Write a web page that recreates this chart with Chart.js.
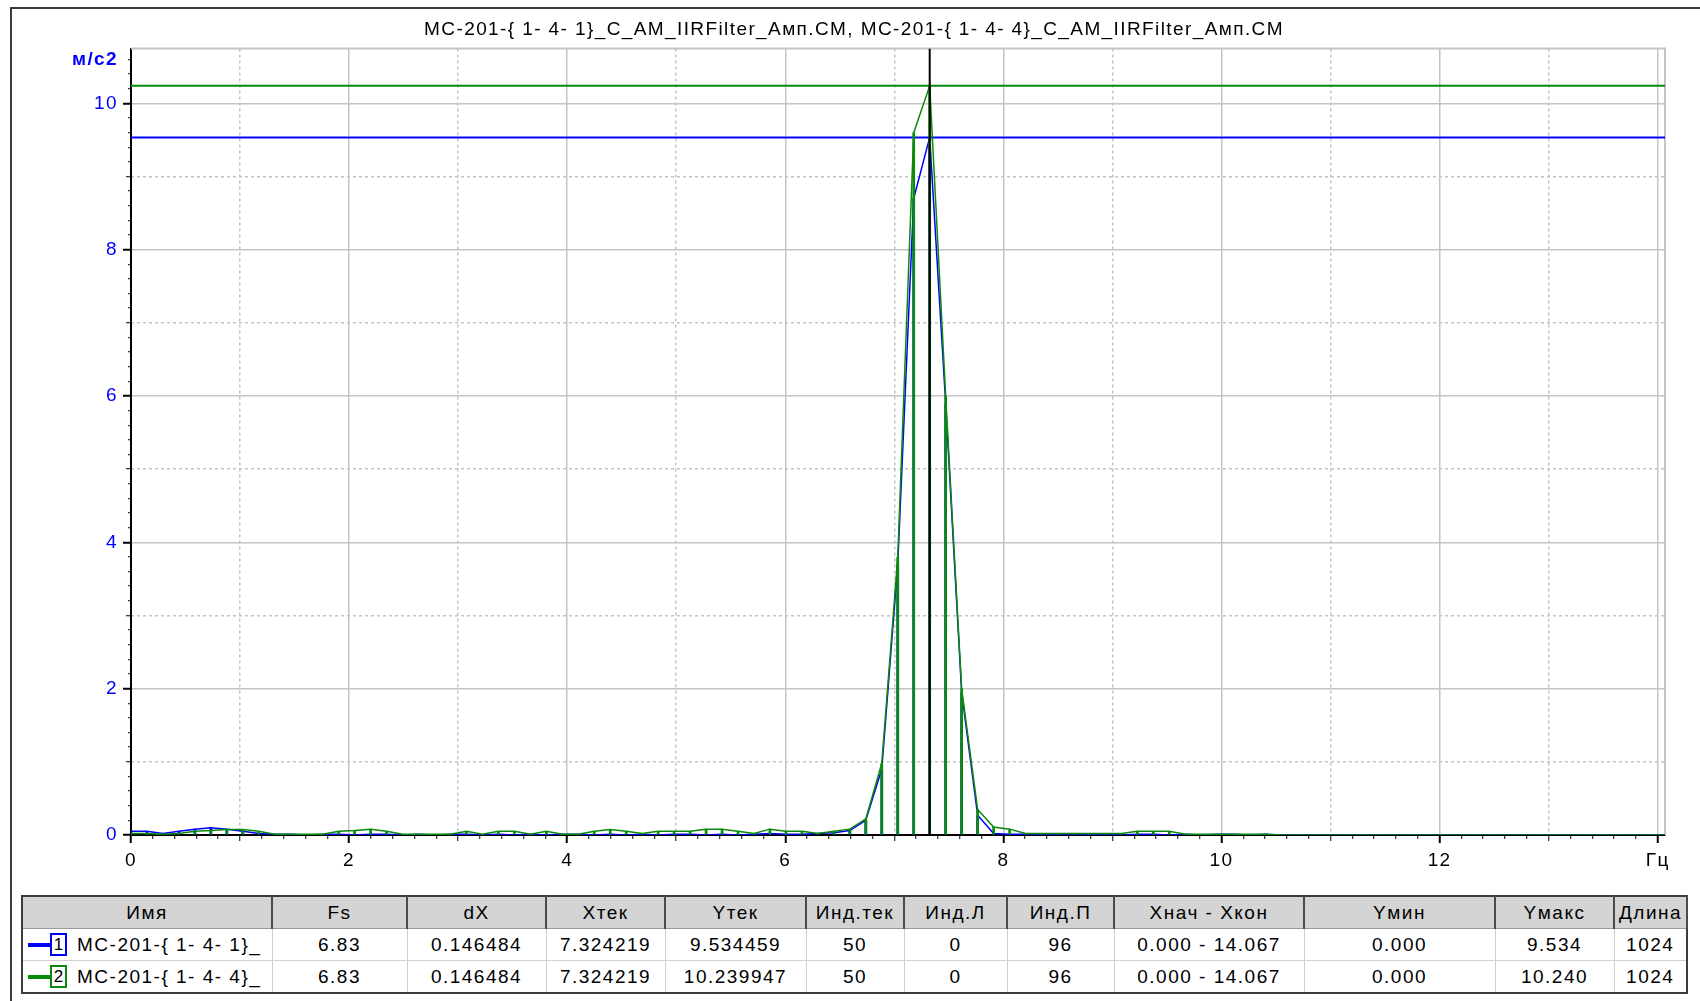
<!DOCTYPE html>
<html>
<head>
<meta charset="utf-8">
<script src="https://cdn.jsdelivr.net/npm/chart.js@4.4.1/dist/chart.umd.min.js"></script>
<style>
  body { margin: 0; background: #fff; width: 1700px; height: 1001px; overflow: hidden; position: relative;
         font-family: "Liberation Sans", Arial, sans-serif; }
  #frame { position: absolute; left: 10px; top: 7px; right: -4px; bottom: -4px;
           border-top: 2px solid #3a3a3a; border-left: 2px solid #3a3a3a; }
  #wrap { position: absolute; left: 0; top: 0; width: 1700px; height: 885px; }
  #info { position: absolute; left: 21px; top: 895px; border-collapse: collapse; table-layout: fixed;
          border: 2px solid #3c3c3c; font-size: 19px; letter-spacing: 1.5px; color: #000; }
  #info th { background: #d4d4d4; font-weight: normal; height: 31px; padding: 0;
             border-right: 2px solid #4a4a4a; border-bottom: 1px solid #999; }
  #info td { height: 31px; padding: 0; border: 1px solid #d0d0d0; text-align: center; white-space: nowrap; overflow: hidden; }
  #info td.name { text-align: left; }
  .mark { display: inline-block; vertical-align: middle; width: 22px; height: 4px; margin-left: 5px; }
  .num { display: inline-block; vertical-align: middle; width: 13px; height: 19px; line-height: 19px; text-align: center;
         border: 2px solid; font-size: 17px; letter-spacing: 0; margin-right: 10px; }
</style>
</head>
<body>
<div id="frame"></div>
<div id="wrap"><canvas id="spectrumChart" width="1700" height="885"></canvas></div>
<table id="info"></table>
<script>
const dX = 0.146484;
const xMax = 14.067;
const yMax = 10.75;
const blueColor = '#0000ff';
const greenColor = '#0a8a0a';

const chartTitle = 'MC-201-{ 1- 4- 1}_C_AM_IIRFilter_Амп.CM, MC-201-{ 1- 4- 4}_C_AM_IIRFilter_Амп.CM';

// amplitudes, one value per spectral line (index 0..96)
const blueValues = [
  0.05, 0.05, 0.02, 0.05, 0.08, 0.10, 0.08, 0.05, 0.02, 0.01,
  0.01, 0.00, 0.01, 0.01, 0.00, 0.01, 0.01, 0.00, 0.01, 0.00,
  0.01, 0.01, 0.00, 0.01, 0.00, 0.01, 0.00, 0.01, 0.01, 0.00,
  0.01, 0.00, 0.01, 0.00, 0.01, 0.01, 0.00, 0.01, 0.00, 0.01,
  0.02, 0.01, 0.01, 0.02, 0.03, 0.06, 0.20, 0.90, 3.70, 8.70,
  9.534459, 5.90, 1.95, 0.27, 0.02, 0.01, 0.01, 0.00, 0.01, 0.00,
  0.01, 0.01, 0.00, 0.01, 0.01, 0.00, 0.01, 0.00, 0.01, 0.01,
  0.00, 0.01, 0, 0, 0, 0, 0, 0, 0, 0,
  0, 0, 0, 0, 0, 0, 0, 0, 0, 0,
  0, 0, 0, 0, 0, 0, 0
];
const greenValues = [
  0.02, 0.02, 0.01, 0.02, 0.05, 0.06, 0.075, 0.075, 0.05, 0.01,
  0.01, 0.01, 0.01, 0.05, 0.06, 0.08, 0.05, 0.01, 0.01, 0.01,
  0.01, 0.05, 0.01, 0.05, 0.05, 0.01, 0.05, 0.01, 0.01, 0.05,
  0.075, 0.05, 0.02, 0.05, 0.05, 0.05, 0.08, 0.08, 0.05, 0.02,
  0.08, 0.05, 0.05, 0.02, 0.05, 0.08, 0.22, 0.98, 3.80, 9.60,
  10.239947, 6.00, 2.00, 0.35, 0.11, 0.08, 0.02, 0.02, 0.02, 0.02,
  0.02, 0.02, 0.02, 0.05, 0.05, 0.05, 0.01, 0.01, 0.01, 0.01,
  0.01, 0.01, 0, 0, 0, 0, 0, 0, 0, 0,
  0, 0, 0, 0, 0, 0, 0, 0, 0, 0,
  0, 0, 0, 0, 0, 0, 0
];

const cursorX = 7.324219;
const cursorY = [9.534459, 10.239947];

const xLabelTicks = [0, 2, 4, 6, 8, 10, 12, 14];
const xLabelText = ['0', '2', '4', '6', '8', '10', '12', 'Гц'];
const yLabelTicks = [0, 2, 4, 6, 8, 10, 10.6];
const yLabelText = ['0', '2', '4', '6', '8', '10', 'м/с2'];
const minorStep = 0.2;

const tableHeaders = ['Имя', 'Fs', 'dX', 'Xтек', 'Yтек', 'Инд.тек', 'Инд.Л', 'Инд.П', 'Хнач - Хкон', 'Yмин', 'Yмакс', 'Длина'];
const tableWidths = [250, 135, 139, 119, 141, 98, 103, 107, 190, 191, 119, 73];
const rowNames = ['MC-201-{ 1- 4- 1}_', 'MC-201-{ 1- 4- 4}_'];
const rowColors = [blueColor, greenColor];
const rowValues = [
  ['6.83', '0.146484', '7.324219', '9.534459', '50', '0', '96', '0.000 - 14.067', '0.000', '9.534', '1024'],
  ['6.83', '0.146484', '7.324219', '10.239947', '50', '0', '96', '0.000 - 14.067', '0.000', '10.240', '1024']
];

const fontFamily = '"Liberation Sans", Arial, sans-serif';
Chart.defaults.font.family = fontFamily;
const textSize = 19;

const near = (a, b) => Math.abs(a - b) < 1e-6;
const isEven = v => near(v / 2, Math.round(v / 2));
const isWhole = v => near(v, Math.round(v));
const tv = c => (c.tick ? c.tick.value : -1);
const pts = vals => vals.map((v, i) => ({ x: i * dX, y: v }));

function stepTicks(max) {
  const t = [];
  for (let k = 0; k * minorStep <= max + 1e-9; k++) t.push({ value: Math.round(k * minorStep * 10) / 10 });
  return t;
}
function oddTicks(max) {
  const t = [];
  for (let v = 1; v < max; v += 2) t.push({ value: v });
  return t;
}
function tickLen(v) {
  if (isEven(v)) return 8;
  if (isWhole(v)) return 5;
  return 3;
}
const gridColor = c => (tv(c) > 0 && isEven(tv(c))) ? '#c4c4c4' : 'rgba(0,0,0,0)';

// the old program spaces its letters out, canvas can do the same
const letterSpacing = {
  id: 'letterSpacing',
  beforeLayout(chart) { chart.ctx.letterSpacing = '1.4px'; },
  beforeDraw(chart) { chart.ctx.letterSpacing = '1.4px'; }
};

const plotFrame = {
  id: 'plotFrame',
  beforeDatasetsDraw(chart) {
    const { ctx, chartArea: a } = chart;
    ctx.save();
    ctx.strokeStyle = '#c4c4c4';
    ctx.lineWidth = 2;
    ctx.beginPath();
    ctx.moveTo(a.left, a.top);
    ctx.lineTo(a.right, a.top);
    ctx.lineTo(a.right, a.bottom);
    ctx.stroke();
    ctx.restore();
  }
};

const ctx = document.getElementById('spectrumChart').getContext('2d');
new Chart(ctx, {
  type: 'line',
  data: {
    datasets: [{
      label: 'cursor',
      data: [{ x: cursorX, y: 0 }, { x: cursorX, y: yMax }],
      borderColor: '#000',
      borderWidth: 2,
      order: 0
    }, {
      label: rowNames[1],
      data: pts(greenValues),
      borderColor: greenColor,
      borderWidth: 1.5,
      order: 1
    }, {
      type: 'bar',
      label: rowNames[1] + ' stems',
      data: pts(greenValues),
      backgroundColor: greenColor,
      barThickness: 2,
      grouped: false,
      order: 2
    }, {
      label: rowNames[0],
      data: pts(blueValues),
      borderColor: blueColor,
      borderWidth: 1.5,
      order: 3
    }, {
      type: 'bar',
      label: rowNames[0] + ' stems',
      data: pts(blueValues),
      backgroundColor: blueColor,
      barThickness: 2,
      grouped: false,
      order: 4
    }, {
      label: 'Y green',
      data: [{ x: 0, y: cursorY[1] }, { x: xMax, y: cursorY[1] }],
      borderColor: greenColor,
      borderWidth: 2,
      order: 5
    }, {
      label: 'Y blue',
      data: [{ x: 0, y: cursorY[0] }, { x: xMax, y: cursorY[0] }],
      borderColor: blueColor,
      borderWidth: 2,
      order: 5
    }]
  },
  options: {
    responsive: false,
    animation: false,
    layout: { padding: { left: 11, right: 3, top: 8, bottom: 0 } },
    elements: { point: { radius: 0 }, line: { tension: 0 } },
    plugins: {
      legend: { display: false },
      tooltip: { enabled: false },
      title: {
        display: true,
        text: chartTitle,
        color: '#000',
        font: { size: textSize, weight: 'normal' },
        padding: { top: 10.6, bottom: 7.1 }
      }
    },
    scales: {
      x: {
        type: 'linear',
        position: 'bottom',
        min: 0,
        max: xMax,
        offset: false,
        afterBuildTicks: s => { s.ticks = stepTicks(xMax); },
        afterFit: s => { s.height = 50; },
        ticks: {
          autoSkip: false,
          maxRotation: 0,
          minRotation: 0,
          padding: 6,
          color: '#000',
          font: { size: textSize },
          callback: v => {
            const i = xLabelTicks.findIndex(t => near(t, v));
            return i >= 0 ? xLabelText[i] : '';
          }
        },
        grid: {
          offset: false,
          color: gridColor,
          lineWidth: 1.5,
          tickLength: 8,
          tickColor: '#000',
          tickWidth: c => isEven(tv(c)) ? 2 : 1,
          tickBorderDash: c => [tickLen(tv(c)), 20]
        },
        border: { color: '#000', width: 2 }
      },
      xDash: {
        type: 'linear',
        position: 'bottom',
        min: 0,
        max: xMax,
        afterBuildTicks: s => { s.ticks = oddTicks(xMax); },
        ticks: { display: false },
        grid: { color: '#c4c4c4', lineWidth: 1.5, drawTicks: false },
        border: { display: false, dash: [3, 3] }
      },
      y: {
        type: 'linear',
        position: 'left',
        min: 0,
        max: yMax,
        afterBuildTicks: s => { s.ticks = stepTicks(yMax); },
        afterFit: s => { s.width = 120; },
        ticks: {
          autoSkip: false,
          padding: 5,
          color: blueColor,
          font: c => ({ size: textSize, weight: near(tv(c), 10.6) ? 'bold' : 'normal' }),
          callback: v => {
            const i = yLabelTicks.findIndex(t => near(t, v));
            return i >= 0 ? yLabelText[i] : '';
          }
        },
        grid: {
          color: gridColor,
          lineWidth: 1.5,
          tickLength: 8,
          tickColor: '#000',
          tickWidth: c => isEven(tv(c)) ? 2 : 1,
          tickBorderDash: c => [tickLen(tv(c)), 8 - tickLen(tv(c))],
          tickBorderDashOffset: c => tickLen(tv(c))
        },
        border: { color: '#000', width: 2 }
      },
      yDash: {
        // sits on the right with a fixed width, so the plot ends where the reference does
        type: 'linear',
        position: 'right',
        min: 0,
        max: yMax,
        afterBuildTicks: s => { s.ticks = oddTicks(yMax); },
        afterFit: s => { s.width = 32; },
        ticks: { display: false },
        grid: { color: '#c4c4c4', lineWidth: 1.5, drawTicks: false },
        border: { display: false, dash: [3, 3] }
      }
    }
  },
  plugins: [letterSpacing, plotFrame]
});

// info table under the chart
const table = document.getElementById('info');
let html = '<colgroup>' + tableWidths.map(w => `<col style="width:${w}px">`).join('') + '</colgroup>';
html += '<tr>' + tableHeaders.map(h => `<th>${h}</th>`).join('') + '</tr>';
rowValues.forEach((vals, r) => {
  html += '<tr><td class="name">' +
    `<span class="mark" style="background:${rowColors[r]}"></span>` +
    `<span class="num" style="border-color:${rowColors[r]}">${r + 1}</span>` +
    `<span style="vertical-align:middle">${rowNames[r]}</span></td>` +
    vals.map(v => `<td>${v}</td>`).join('') + '</tr>';
});
table.innerHTML = html;
</script>
</body>
</html>
